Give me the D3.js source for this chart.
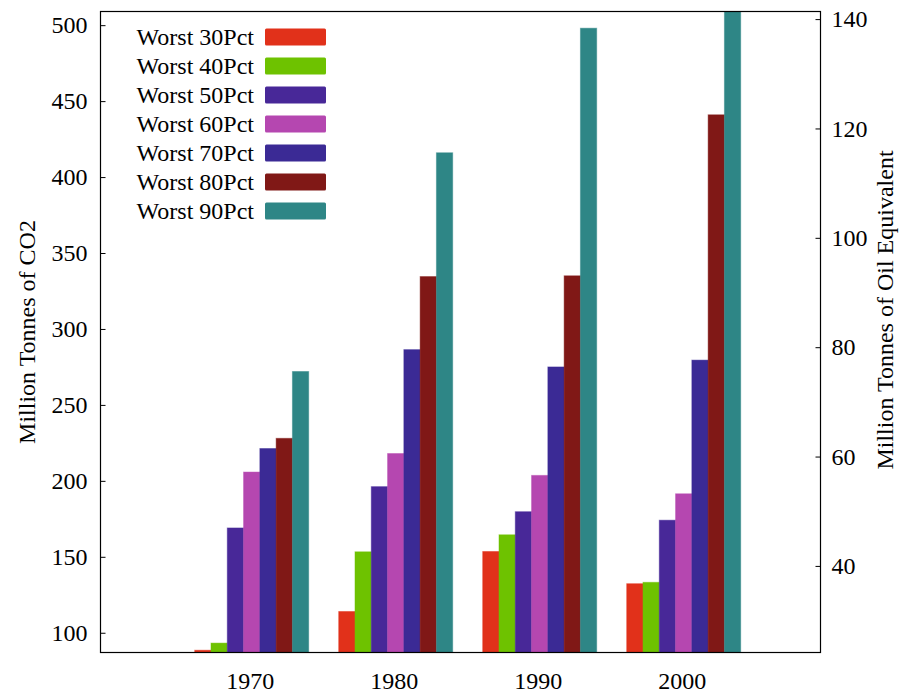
<!DOCTYPE html>
<html>
<head>
<meta charset="utf-8">
<script src="https://cdn.jsdelivr.net/npm/d3@7"></script>
<style>
  html, body { margin: 0; padding: 0; background: #fff; }
  svg { display: block; }
  text { font-family: "Liberation Serif", "DejaVu Serif", serif; fill: #000; }
</style>
</head>
<body>
<script>
// Emissions by decade for each "worst N percent" group
const years = ["1970", "1980", "1990", "2000"];
const seriesNames = ["Worst 30Pct", "Worst 40Pct", "Worst 50Pct", "Worst 60Pct",
                     "Worst 70Pct", "Worst 80Pct", "Worst 90Pct"];
const worst30 = [88.5, 114.0, 153.5, 132.3];
const worst40 = [93.2, 153.3, 164.5, 133.2];
const worst50 = [169.0, 196.2, 179.7, 174.1];
const worst60 = [205.8, 218.0, 203.6, 191.5];
const worst70 = [221.3, 286.4, 275.0, 279.5];
const worst80 = [228.0, 334.5, 335.0, 441.0];
const worst90 = [272.0, 416.0, 498.0, 515.0];
const seriesValues = [worst30, worst40, worst50, worst60, worst70, worst80, worst90];
const seriesColors = ["#e1311a", "#6ec200", "#482898", "#b547b0", "#3b2a95", "#801816", "#2e8686"];
const leftTicks = [100, 150, 200, 250, 300, 350, 400, 450, 500];
const rightTicks = [40, 60, 80, 100, 120, 140];
const co2PerToe = 3.6;   // tonnes of CO2 per tonne of oil equivalent

const W = 913, H = 693;
const plot = { left: 100.5, right: 820.5, top: 11.5, bottom: 652.5 };
const fontSize = 24;

const svg = d3.select("body").append("svg").attr("width", W).attr("height", H);

const y = d3.scaleLinear().domain([87, 509]).range([plot.bottom, plot.top]);
const y2 = d3.scaleLinear().domain([87 / co2PerToe, 509 / co2PerToe]).range([plot.bottom, plot.top]);

// group centres, one step of padding at each end
const x = d3.scalePoint().domain(years).range([plot.left, plot.right]).padding(1).align(0.525);
const groupWidth = 114;
const xs = d3.scaleBand().domain(seriesNames).range([-groupWidth / 2, groupWidth / 2]).padding(0);

svg.append("clipPath").attr("id", "plotclip")
  .append("rect")
  .attr("x", plot.left).attr("y", plot.top)
  .attr("width", plot.right - plot.left).attr("height", plot.bottom - plot.top);

// bars
const barsG = svg.append("g").attr("clip-path", "url(#plotclip)");
seriesNames.forEach((name, si) => {
  barsG.append("g")
    .selectAll("rect")
    .data(seriesValues[si].map((v, i) => ({ year: years[i], v })))
    .join("rect")
    .attr("x", d => x(d.year) + xs(name))
    .attr("y", d => y(d.v))
    .attr("width", xs.bandwidth())
    .attr("height", d => y(y.domain()[0]) - y(d.v))
    .attr("fill", seriesColors[si])
    .attr("stroke", seriesColors[si])
    .attr("stroke-opacity", 0.45)
    .attr("stroke-width", 1);
});

// frame
svg.append("rect")
  .attr("x", plot.left).attr("y", plot.top)
  .attr("width", plot.right - plot.left).attr("height", plot.bottom - plot.top)
  .attr("fill", "none").attr("stroke", "#000").attr("stroke-width", 1.2);

// left axis (ticks pointing inward)
const leftAxis = d3.axisLeft(y).tickValues(leftTicks).tickSizeInner(-5).tickSizeOuter(0).tickPadding(13);
const gl = svg.append("g").attr("transform", `translate(${plot.left},0)`).call(leftAxis);
gl.select(".domain").remove();
gl.selectAll("text").style("font-size", fontSize + "px").style("font-family", "Liberation Serif").attr("fill", "#000");
gl.selectAll("line").attr("stroke", "#000");

// right axis
const rightAxis = d3.axisRight(y2).tickValues(rightTicks).tickSizeInner(-5).tickSizeOuter(0).tickPadding(11);
const gr = svg.append("g").attr("transform", `translate(${plot.right},0)`).call(rightAxis);
gr.select(".domain").remove();
gr.selectAll("text").style("font-size", fontSize + "px").style("font-family", "Liberation Serif").attr("fill", "#000");
gr.selectAll("line").attr("stroke", "#000");

// bottom axis: labels only
const bottomAxis = d3.axisBottom(x).tickSize(0).tickPadding(19);
const gb = svg.append("g").attr("transform", `translate(-2,${plot.bottom})`).call(bottomAxis);
gb.select(".domain").remove();
gb.selectAll("text").style("font-size", fontSize + "px").style("font-family", "Liberation Serif").attr("fill", "#000");

// axis titles
svg.append("text")
  .attr("transform", `translate(35,${(plot.top + plot.bottom) / 2}) rotate(-90)`)
  .attr("text-anchor", "middle")
  .style("font-size", fontSize + "px")
  .text("Million Tonnes of CO2");
svg.append("text")
  .attr("transform", `translate(893,${(plot.top + plot.bottom) / 2 - 22}) rotate(-90)`)
  .attr("text-anchor", "middle")
  .style("font-size", fontSize + "px")
  .text("Million Tonnes of Oil Equivalent");

// legend
const legend = svg.append("g").attr("transform", "translate(0,37)");
seriesNames.forEach((name, i) => {
  const row = legend.append("g").attr("transform", `translate(0,${i * 29})`);
  row.append("text")
    .attr("x", 254).attr("y", 0).attr("dy", "0.35em")
    .attr("text-anchor", "end")
    .style("font-size", fontSize + "px")
    .text(name);
  row.append("rect")
    .attr("x", 265).attr("y", -8.5).attr("width", 61).attr("height", 17)
    .attr("rx", 1.5)
    .attr("fill", seriesColors[i]);
});
</script>
</body>
</html>
